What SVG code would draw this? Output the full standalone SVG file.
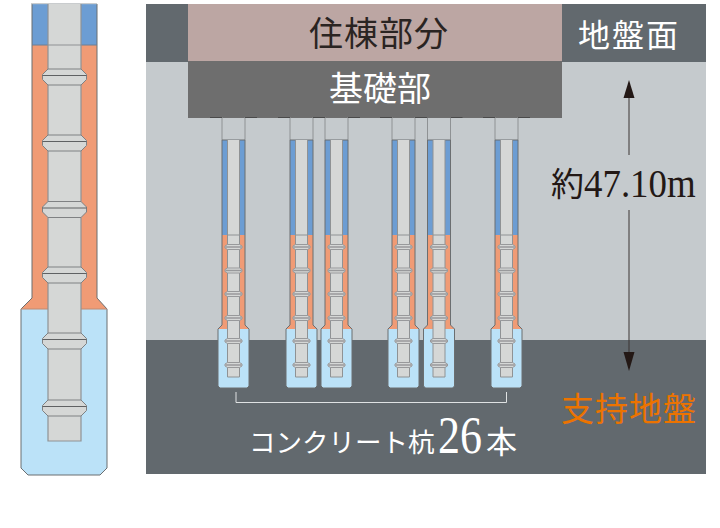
<svg xmlns="http://www.w3.org/2000/svg" width="720" height="528" viewBox="0 0 720 528">
<style>
.cjk{font-family:"Liberation Serif","Noto Sans CJK JP",serif}
.w{fill:#fff}
.shaft{fill:#d5d7d6}
.blue{fill:#6c9dd3}
.or{fill:#f09b75}
.lb{fill:#bbe2f8}
.edge{fill:none;stroke:#6b6e70;stroke-width:1}
.edges{fill:none;stroke:#8f9294;stroke-width:1}
.j{fill:#d5d7d6;stroke:#7f8183;stroke-width:1}
.js{fill:#d5d7d6;stroke:#98999b;stroke-width:1}
</style>
<defs>
<g id="j"><path class="j" d="M-16.500,-8 L16.500,-8 L22,-2.500 L22,2.500 L16.500,8 L-16.500,8 L-22,2.500 L-22,-2.500 Z"/><path d="M-22,-1.500 H22" stroke="#5f6163" stroke-width="1"/></g>
<g id="js"><path class="js" d="M-6,-2.500 H6 L8.500,-1 V1 L6,2.500 H-6 L-8.500,1 V-1 Z"/><path d="M-8,0 H8" stroke="#98999b" stroke-width="1.500"/></g>
<g id="pile">
<path class="edges" d="M-11.500,0 V23 M11.500,0 V23"/>
<path d="M-23.500,0.500 H-11.500 M11.500,0.500 H23.500" stroke="#4a4a4a" stroke-width="1"/>
<rect class="blue" x="-11.500" y="23" width="23" height="95"/>
<path class="or" d="M-11.500,118 H11.500 V208 L15.500,212 H-15.500 L-11.500,208 Z"/>
<path class="lb" d="M-15.500,212 H15.500 V269 L13.500,271 H-13.500 L-15.500,269 Z"/>
<path class="edge" d="M-11.500,23 V208 L-15.500,212 V269 L-13.500,271 H13.500 L15.500,269 V212 L11.500,208 V23 H-11.500"/>
<path class="shaft" d="M-6,23 H6 V260 H-6 Z"/>
<path class="edges" d="M-6,23 V260 H6 V23 M-6,118 H6"/>
<use href="#js" y="130"/><use href="#js" y="153.500"/><use href="#js" y="177"/><use href="#js" y="201"/><use href="#js" y="224"/><use href="#js" y="248"/>
</g>
</defs>

<g id="ground">
<rect x="146" y="4" width="560" height="58" fill="#62696e"/>
<rect x="146" y="62" width="560" height="278" fill="#c5cacd"/>
<rect x="146" y="340" width="560" height="134" fill="#62696e"/>
</g>

<g id="building"><rect x="188" y="4" width="374" height="57" fill="#bca6a3"/><text class="cjk" x="379" y="46" font-size="34" fill="#2a2422" text-anchor="middle" letter-spacing="1">住棟部分</text></g>
<g id="foundation"><rect x="188" y="61" width="374" height="57" fill="#6e6e6e"/><text class="cjk w" x="380" y="101" font-size="34" text-anchor="middle">基礎部</text></g>

<g id="large-pile">
<rect class="blue" x="32" y="4" width="65" height="41"/>
<path class="or" d="M32,45 H97 V298 L107,309 H21 L32,298 Z"/>
<path class="lb" d="M21,309 H107 V468 L100,475 H28 L21,468 Z"/>
<path class="edge" d="M32,4 V298 L21,309 V468 L28,475 H100 L107,468 V309 L97,298 V4"/>
<path d="M21,309 H48 M81,309 H107" stroke="#c08a72" stroke-width="1"/>
<rect x="31" y="3" width="66" height="1.200" fill="#c9ccce"/>
<path d="M32,45 H97" stroke="#6b7f94" stroke-width="1"/>
<rect class="shaft" x="48" y="4" width="33" height="437"/>
<path d="M48,4 V441 H81 V4 M48,45 H81" fill="none" stroke="#8f9294" stroke-width="1.200"/>
<use href="#j" x="64.500" y="77"/><use href="#j" x="64.500" y="143"/><use href="#j" x="64.500" y="209.500"/><use href="#j" x="64.500" y="275"/><use href="#j" x="64.500" y="341"/><use href="#j" x="64.500" y="408"/>
</g>

<g id="pile-1"><use href="#pile" x="233.500" y="117"/></g>
<g id="pile-2"><use href="#pile" x="301.500" y="117"/></g>
<g id="pile-3"><use href="#pile" x="336.500" y="117"/></g>
<g id="pile-4"><use href="#pile" x="403.500" y="117"/></g>
<g id="pile-5"><use href="#pile" x="439" y="117"/></g>
<g id="pile-6"><use href="#pile" x="506.500" y="117"/></g>

<g id="connectors">
<path d="M629,98 V155 M629,210 V352" stroke="#3a3533" stroke-width="1" fill="none"/>
<path d="M629,80 L634.500,98 H623.500 Z" fill="#231815"/>
<path d="M629,371 L634.500,352 H623.500 Z" fill="#231815"/>
<path d="M236,392 V402.500 H506.500 V392" fill="none" stroke="#dfe2e3" stroke-width="1"/>
</g>

<g id="labels">
<text class="cjk w" x="629" y="47" font-size="32" text-anchor="middle" letter-spacing="2">地盤面</text>
<text class="cjk" x="551" y="196" font-size="33" fill="#231815">約</text>
<text class="cjk" transform="translate(584,196.500) scale(.9,1)" font-size="41" fill="#231815">47.10m</text>
<text class="cjk" x="629" y="421" font-size="33" fill="#ec7300" text-anchor="middle" letter-spacing="1">支持地盤</text>
<text class="cjk w" x="249" y="452" font-size="26.500">コンクリート杭</text>
<text class="cjk w" transform="translate(438,453) scale(.846,1)" font-size="52">26</text>
<text class="cjk w" x="486" y="453" font-size="31">本</text>
</g>
</svg>
